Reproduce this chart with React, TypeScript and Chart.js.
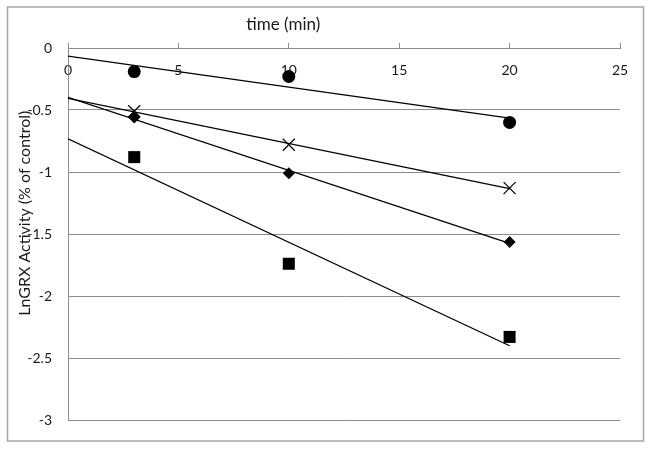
import React, { useEffect, useRef } from 'react';
import { Chart, registerables } from 'chart.js';

Chart.register(...registerables);

// ---- data ----
const timeMin = [3, 10, 20];
const seriesCircle = [-0.19, -0.23, -0.6];
const seriesCross = [-0.51, -0.78, -1.13];
const seriesDiamond = [-0.56, -1.01, -1.565];
const seriesSquare = [-0.88, -1.74, -2.33];
const trendFrom = 0;
const trendTo = 20;
const xMin = 0;
const xMax = 25;
const xStep = 5;
const yMin = -3;
const yMax = 0;
const yStep = 0.5;
const xTitle = 'time (min)';
const yTitle = 'LnGRX Activity (% of control)';

const FONT = 'Lato, "Liberation Sans", sans-serif';
const GRID = '#8c8c8c';
const TEXT = '#1a1a1a';

function linFit(xs: number[], ys: number[]) {
  const n = xs.length;
  const mx = xs.reduce((a, b) => a + b, 0) / n;
  const my = ys.reduce((a, b) => a + b, 0) / n;
  let sxy = 0;
  let sxx = 0;
  for (let i = 0; i < n; i++) {
    sxy += (xs[i] - mx) * (ys[i] - my);
    sxx += (xs[i] - mx) * (xs[i] - mx);
  }
  const slope = sxy / sxx;
  const icpt = my - slope * mx;
  return (x: number) => icpt + slope * x;
}

function pts(ys: number[]) {
  return timeMin.map((x, i) => ({ x, y: ys[i] }));
}

function trend(ys: number[]) {
  const f = linFit(timeMin, ys);
  return [
    { x: trendFrom, y: f(trendFrom) },
    { x: trendTo, y: f(trendTo) },
  ];
}

const framePlugin = {
  id: 'frame',
  beforeDraw(chart: any) {
    const { ctx, width, height } = chart;
    ctx.save();
    ctx.fillStyle = '#ffffff';
    ctx.fillRect(0, 0, width, height);
    ctx.strokeStyle = '#a6a6a6';
    ctx.lineWidth = 1.5;
    ctx.strokeRect(7.5, 7, 636, 434);
    ctx.restore();
  },
};

const titlesPlugin = {
  id: 'titles',
  afterDraw(chart: any) {
    const { ctx, chartArea } = chart;
    ctx.save();
    ctx.fillStyle = TEXT;
    ctx.textAlign = 'center';
    ctx.textBaseline = 'middle';
    const w = chartArea.right - chartArea.left;
    ctx.font = `17px ${FONT}`;
    ctx.fillText(xTitle, chartArea.left + w * 0.39, 25);
    ctx.font = `16px ${FONT}`;
    ctx.translate(25, chartArea.top + (chartArea.bottom - chartArea.top) * 0.444);
    ctx.rotate(-Math.PI / 2);
    ctx.fillText(yTitle, 0, 0);
    ctx.restore();
  },
};

export default function App() {
  const ref = useRef<HTMLCanvasElement | null>(null);

  useEffect(() => {
    document.body.style.margin = '0';
    const canvas = ref.current;
    if (!canvas) return;
    const black = '#000000';
    const markerDs = (ys: number[], style: string, radius: number, filled: boolean) => ({
      type: 'scatter' as const,
      data: pts(ys),
      pointStyle: style,
      pointRadius: radius,
      pointHoverRadius: radius,
      pointBackgroundColor: filled ? black : 'rgba(0,0,0,0)',
      pointBorderColor: black,
      pointBorderWidth: filled ? 0 : 1.2,
      showLine: false,
    });
    const lineDs = (ys: number[]) => ({
      type: 'scatter' as const,
      data: trend(ys),
      showLine: true,
      borderColor: black,
      borderWidth: 1.3,
      pointRadius: 0,
      pointHoverRadius: 0,
    });

    const chart = new Chart(canvas, {
      type: 'scatter',
      data: {
        datasets: [
          lineDs(seriesCircle),
          lineDs(seriesCross),
          lineDs(seriesDiamond),
          lineDs(seriesSquare),
          markerDs(seriesCircle, 'circle', 6.5, true),
          markerDs(seriesCross, 'crossRot', 8.5, false),
          markerDs(seriesDiamond, 'rectRot', 6, true),
          markerDs(seriesSquare, 'rect', 8.5, true),
        ] as any,
      },
      options: {
        animation: false,
        responsive: true,
        maintainAspectRatio: false,
        layout: { padding: { left: 0, top: 0, right: 31, bottom: 29 } },
        plugins: {
          legend: { display: false },
          tooltip: { enabled: false },
          title: { display: false },
        },
        scales: {
          x: {
            type: 'linear',
            position: 'top',
            min: xMin,
            max: xMax,
            afterFit(scale: any) {
              scale.height = 48;
            },
            ticks: {
              stepSize: xStep,
              mirror: true,
              padding: 14,
              color: TEXT,
              font: { family: FONT, size: 14 },
              autoSkip: false,
              maxRotation: 0,
              callback: (v: any) => String(v),
            },
            grid: {
              drawOnChartArea: false,
              drawTicks: true,
              tickLength: 5,
              color: GRID,
              lineWidth: 1,
            },
            border: { display: true, color: GRID, width: 1 },
          },
          y: {
            type: 'linear',
            position: 'left',
            min: yMin,
            max: yMax,
            afterFit(scale: any) {
              scale.width = 68;
            },
            ticks: {
              stepSize: yStep,
              padding: 16,
              color: TEXT,
              font: { family: FONT, size: 14 },
              callback: (v: any) => String(Math.round(Number(v) * 10) / 10),
            },
            grid: {
              drawTicks: false,
              tickLength: 0,
              color: GRID,
              lineWidth: 1,
            },
            border: { display: true, color: GRID, width: 1 },
          },
        },
      },
      plugins: [framePlugin, titlesPlugin],
    });
    return () => chart.destroy();
  }, []);

  return (
    <div style={{ position: 'relative', width: 651, height: 449 }}>
      <canvas ref={ref} />
    </div>
  );
}
